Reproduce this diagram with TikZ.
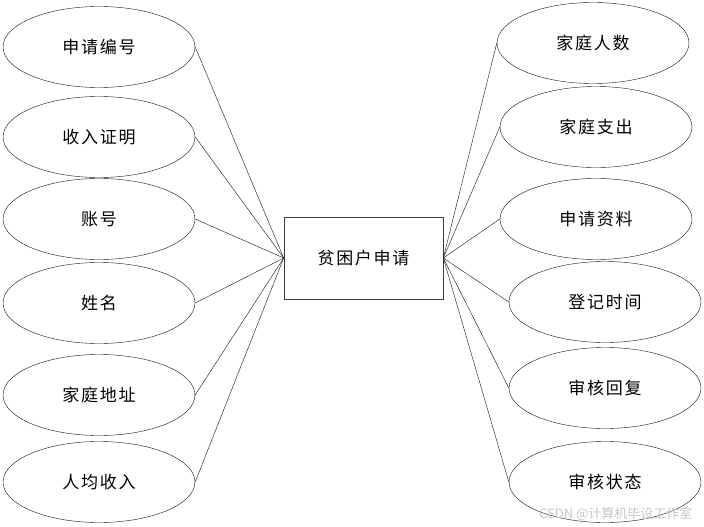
\documentclass[tikz,border=0pt]{standalone}
\usepackage{fontspec}
\setmainfont{Noto Sans CJK SC}
\usetikzlibrary{shapes.geometric}
\definecolor{ErLine}{RGB}{20,20,20}
\definecolor{ErBox}{RGB}{60,60,60}
\definecolor{ErMark}{RGB}{200,200,200}
\tikzset{
  er/attr/.style={
    ellipse,
    draw=ErLine,
    thin,
    fill=white,
    inner sep=0pt,
    minimum width=192pt,
    minimum height=81pt,
    font=\fontsize{17}{20}\selectfont\addfontfeature{LetterSpace=10}
  },
  er/entity/.style={
    rectangle,
    draw=ErBox,
    semithick,
    fill=white,
    inner sep=0pt,
    minimum width=159pt,
    minimum height=82pt,
    font=\fontsize{17}{20}\selectfont\addfontfeature{LetterSpace=10}
  },
  er/link/.style={draw=ErLine, thin},
  er/mark/.style={font=\fontsize{13}{15}\selectfont, text=ErMark}
}
\begin{document}
\begin{tikzpicture}[x=1pt,y=-1pt]
  \useasboundingbox[fill=white] (0,0) rectangle (704,527);
  % entity
  \node[er/entity] (apply) at (363.5,258) {贫困户申请};
  % left attributes
  \node[er/attr] (bh) at (99,47) {申请编号};
  \node[er/attr] (zm) at (99,137) {收入证明};
  \node[er/attr] (zh) at (99,219) {账号};
  \node[er/attr] (xm) at (99,303) {姓名};
  \node[er/attr] (dz) at (99,395) {家庭地址};
  \node[er/attr] (sr) at (99,482) {人均收入};
  % right attributes
  \node[er/attr] (rs) at (593,43) {家庭人数};
  \node[er/attr] (zc) at (596,127) {家庭支出};
  \node[er/attr] (zl) at (596,219) {申请资料};
  \node[er/attr] (sj) at (605,302) {登记时间};
  \node[er/attr] (hf) at (605,388) {审核回复};
  \node[er/attr] (zt) at (605,482) {审核状态};
  % links
  \foreach \a in {bh,zm,zh,xm,dz,sr}
    \draw[er/link] (\a.east) -- (apply.west);
  \foreach \a in {rs,zc,zl,sj,hf,zt}
    \draw[er/link] (apply.east) -- (\a.west);
  \node[er/mark, anchor=east] (wm) at (696,514) {CSDN @计算机毕设工作室};
\end{tikzpicture}
\end{document}
